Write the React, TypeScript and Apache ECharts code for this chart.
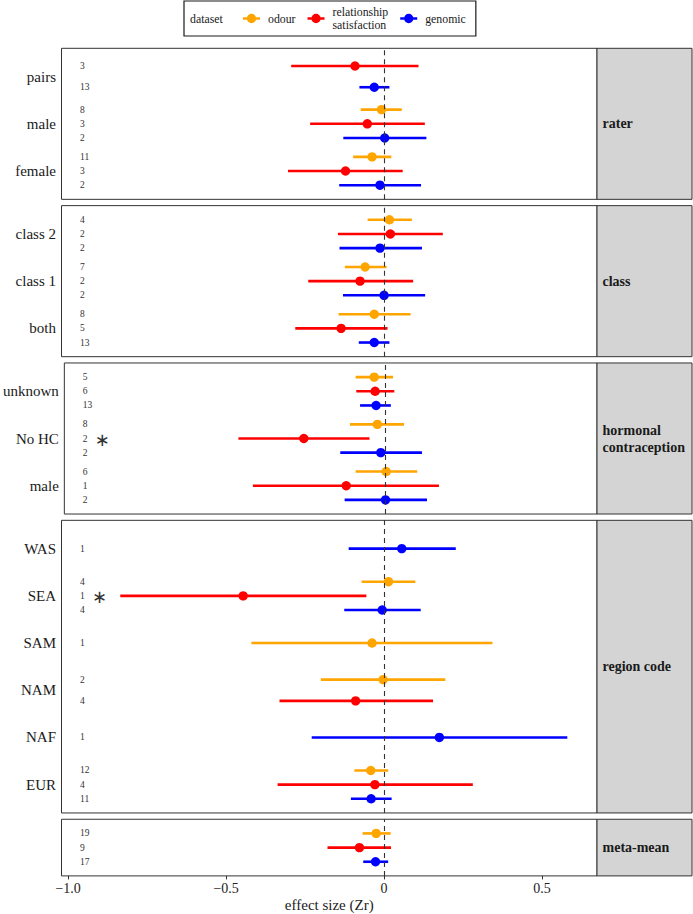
import React, { useEffect, useRef } from 'react';
import * as echarts from 'echarts';

// ---------------- data ----------------
const datasets = ['odour', 'relationship satisfaction', 'genomic'];
const datasetColors = ['#FFA500', '#FF0000', '#0000FF'];
const xTicks = [-1.0, -0.5, 0, 0.5];
const xTickLabels = ['\u22121.0', '\u22120.5', '0', '0.5'];

// rows: [category, dataset index, estimate, lower CI, upper CI, k]
const raterCategories = ['pairs', 'male', 'female'];
const raterRows = [
  ['pairs', 1, -0.092, -0.294, 0.109, 3],
  ['pairs', 2, -0.031, -0.078, 0.017, 13],
  ['male', 0, -0.008, -0.074, 0.056, 8],
  ['male', 1, -0.053, -0.234, 0.129, 3],
  ['male', 2, 0.002, -0.129, 0.134, 2],
  ['female', 0, -0.038, -0.098, 0.023, 11],
  ['female', 1, -0.122, -0.304, 0.059, 3],
  ['female', 2, -0.013, -0.142, 0.117, 2],
];

const classCategories = ['class 2', 'class 1', 'both'];
const classRows = [
  ['class 2', 0, 0.017, -0.052, 0.088, 4],
  ['class 2', 1, 0.02, -0.146, 0.186, 2],
  ['class 2', 2, -0.013, -0.141, 0.12, 2],
  ['class 1', 0, -0.06, -0.124, 0.008, 7],
  ['class 1', 1, -0.076, -0.24, 0.092, 2],
  ['class 1', 2, 0.0, -0.13, 0.13, 2],
  ['both', 0, -0.031, -0.144, 0.084, 8],
  ['both', 1, -0.136, -0.281, 0.011, 5],
  ['both', 2, -0.031, -0.08, 0.017, 13],
];

const hcCategories = ['unknown', 'No HC', 'male'];
const hcRows = [
  ['unknown', 0, -0.035, -0.094, 0.025, 5],
  ['unknown', 1, -0.032, -0.092, 0.029, 6],
  ['unknown', 2, -0.029, -0.08, 0.018, 13],
  ['No HC', 0, -0.025, -0.112, 0.06, 8],
  ['No HC', 1, -0.259, -0.467, -0.05, 2],
  ['No HC', 2, -0.014, -0.143, 0.117, 2],
  ['male', 0, 0.003, -0.094, 0.102, 6],
  ['male', 1, -0.124, -0.421, 0.171, 1],
  ['male', 2, 0.001, -0.129, 0.133, 2],
];

const regionCategories = ['WAS', 'SEA', 'SAM', 'NAM', 'NAF', 'EUR'];
const regionRows = [
  ['WAS', 2, 0.056, -0.112, 0.227, 1],
  ['SEA', 0, 0.014, -0.071, 0.099, 4],
  ['SEA', 1, -0.446, -0.835, -0.056, 1],
  ['SEA', 2, -0.006, -0.126, 0.116, 4],
  ['SAM', 0, -0.038, -0.42, 0.343, 1],
  ['NAM', 0, -0.003, -0.2, 0.194, 2],
  ['NAM', 1, -0.09, -0.331, 0.155, 4],
  ['NAF', 2, 0.175, -0.229, 0.58, 1],
  ['EUR', 0, -0.042, -0.094, 0.013, 12],
  ['EUR', 1, -0.029, -0.337, 0.281, 4],
  ['EUR', 2, -0.041, -0.105, 0.024, 11],
];

const metaCategories = ['meta-mean'];
const metaRows = [
  ['meta-mean', 0, -0.025, -0.068, 0.021, 19],
  ['meta-mean', 1, -0.078, -0.179, 0.022, 9],
  ['meta-mean', 2, -0.027, -0.066, 0.013, 17],
];

// [panel index, category, dataset index] of estimates marked with an asterisk
const starredRows = [
  [2, 'No HC', 1],
  [3, 'SEA', 1],
];

const panelLabels = ['rater', 'class', 'hormonal\ncontraception', 'region code', 'meta-mean'];
const panelCategories = [raterCategories, classCategories, hcCategories, regionCategories, metaCategories];
const panelRows = [raterRows, classRows, hcRows, regionRows, metaRows];
const panelShowCategoryLabels = [true, true, true, true, false];

// ---------------- layout ----------------
const FONT = "'Liberation Serif', 'DejaVu Serif', 'Times New Roman', serif";
const X_MIN = -1.021;
const X_MAX = 0.674;
const UNIT = 47.2;
const GAP = 6.3;
const TOP0 = 48.3;
const LEFT = 61.5;
const PLOT_RIGHT = 597;
const STRIP_RIGHT = 692;
const DODGE = 0.9;
const FRAME = '#333333';

const legendIcon =
  'path://M0,3.7H3.9V6.3H0Z M13.1,3.7H17V6.3H13.1Z M3.8,5A4.7,4.7 0 1 1 13.2,5A4.7,4.7 0 1 1 3.8,5Z';

function buildOption() {
  const grids: any[] = [];
  const xAxes: any[] = [];
  const yAxes: any[] = [];
  const series: any[] = [];
  const graphics: any[] = [];

  let top = TOP0;
  const last = panelLabels.length - 1;

  panelLabels.forEach((label, p) => {
    const cats = panelCategories[p];
    const rows = panelRows[p];
    const n = cats.length;
    const height = (n - 1 + 1.2) * UNIT;

    grids.push({
      left: LEFT,
      top,
      width: PLOT_RIGHT - LEFT,
      height,
      show: true,
      borderColor: FRAME,
      borderWidth: 1,
      backgroundColor: '#ffffff',
    });

    const isLast = p === last;
    xAxes.push({
      type: 'value',
      gridIndex: p,
      min: X_MIN,
      max: X_MAX,
      show: isLast,
      axisLine: { show: false },
      splitLine: { show: false },
      axisTick: {
        show: isLast,
        customValues: xTicks,
        length: 3.5,
        lineStyle: { color: FRAME, width: 1 },
      },
      axisLabel: {
        show: isLast,
        customValues: xTicks,
        formatter: (v: number) => {
          const i = xTicks.findIndex((t) => Math.abs(t - v) < 1e-9);
          return i >= 0 ? xTickLabels[i] : '';
        },
        fontFamily: FONT,
        fontSize: 14,
        color: '#222',
        margin: 6,
      },
      name: isLast ? 'effect size (Zr)' : '',
      nameLocation: 'middle',
      nameGap: 22,
      nameTextStyle: { fontFamily: FONT, fontSize: 15, color: '#222' },
    });

    const yVals = cats.map((_, i) => n - i);
    yAxes.push({
      type: 'value',
      gridIndex: p,
      min: 0.4,
      max: n + 0.6,
      axisLine: { show: false },
      splitLine: { show: false },
      axisTick: { show: false },
      axisLabel: {
        show: panelShowCategoryLabels[p],
        customValues: yVals,
        formatter: (v: number) => {
          const i = n - Math.round(v);
          return cats[i] ?? '';
        },
        fontFamily: FONT,
        fontSize: 15,
        color: '#1a1a1a',
        margin: 5.5,
      },
    });

    // dashed reference line at 0
    series.push({
      type: 'scatter',
      xAxisIndex: p,
      yAxisIndex: p,
      data: [],
      silent: true,
      z: 1,
      markLine: {
        silent: true,
        symbol: ['none', 'none'],
        label: { show: false },
        lineStyle: { color: FRAME, type: [5, 4], width: 1.1 },
        data: [{ xAxis: 0 }],
      },
    });

    // positions (dodged)
    const positioned: any[] = [];
    cats.forEach((cat, ci) => {
      const catRows = rows.filter((r) => r[0] === cat).sort((a: any, b: any) => a[1] - b[1]);
      const m = catRows.length;
      catRows.forEach((r: any, j) => {
        const y = n - ci + (DODGE / m) * ((m - 1) / 2 - j);
        const starred = starredRows.some((s) => s[0] === p && s[1] === cat && s[2] === r[1]);
        positioned.push({ ds: r[1], est: r[2], lo: r[3], hi: r[4], k: r[5], y, starred });
      });
    });

    datasets.forEach((ds, d) => {
      const color = datasetColors[d];
      series.push({
        type: 'custom',
        name: ds,
        xAxisIndex: p,
        yAxisIndex: p,
        z: 3,
        itemStyle: { color },
        encode: { x: [0, 2, 3], y: 1 },
        data: positioned.filter((r) => r.ds === d).map((r) => [r.est, r.y, r.lo, r.hi]),
        renderItem: (params: any, api: any) => {
          const y = api.value(1);
          const a = api.coord([api.value(2), y]);
          const b = api.coord([api.value(3), y]);
          const c = api.coord([api.value(0), y]);
          return {
            type: 'group',
            children: [
              {
                type: 'line',
                shape: { x1: a[0], y1: a[1], x2: b[0], y2: b[1] },
                style: { stroke: color, lineWidth: 2.6 },
              },
              {
                type: 'circle',
                shape: { cx: c[0], cy: c[1], r: 4.7 },
                style: { fill: color },
              },
            ],
          };
        },
      });
    });

    // k labels and asterisks
    series.push({
      type: 'custom',
      xAxisIndex: p,
      yAxisIndex: p,
      z: 4,
      silent: true,
      encode: { x: 0, y: 1 },
      data: positioned.map((r) => [X_MIN, r.y, r.k, r.starred ? 1 : 0]),
      renderItem: (params: any, api: any) => {
        const pt = api.coord([api.value(0), api.value(1)]);
        const children: any[] = [
          {
            type: 'text',
            x: pt[0] + 18.5,
            y: pt[1],
            style: {
              text: String(api.value(2)),
              fontFamily: FONT,
              fontSize: 9.5,
              fill: '#333',
              align: 'left',
              verticalAlign: 'middle',
            },
          },
        ];
        if (api.value(3)) {
          children.push({
            type: 'text',
            x: pt[0] + 38,
            y: pt[1] + 1,
            style: {
              text: '\u2217',
              fontFamily: "'DejaVu Sans', sans-serif",
              fontSize: 18,
              fill: '#333',
              align: 'center',
              verticalAlign: 'middle',
            },
          });
        }
        return { type: 'group', children };
      },
    });

    // strip on the right
    graphics.push({
      type: 'rect',
      shape: { x: PLOT_RIGHT, y: top, width: STRIP_RIGHT - PLOT_RIGHT, height },
      style: { fill: '#d4d4d4', stroke: FRAME, lineWidth: 1 },
      z: 10,
    });
    graphics.push({
      type: 'text',
      x: PLOT_RIGHT + 5.5,
      y: top + height / 2,
      style: {
        text: label,
        fontFamily: FONT,
        fontWeight: 'bold',
        fontSize: 14,
        lineHeight: 17,
        fill: '#1a1a1a',
        align: 'left',
        verticalAlign: 'middle',
      },
      z: 11,
    });

    top += height + GAP;
  });

  graphics.push({
    type: 'text',
    x: 190,
    y: 19,
    style: {
      text: 'dataset',
      fontFamily: FONT,
      fontSize: 11.8,
      fill: '#1a1a1a',
      align: 'left',
      verticalAlign: 'middle',
    },
    z: 20,
  });

  return {
    animation: false,
    backgroundColor: '#ffffff',
    grid: grids,
    xAxis: xAxes,
    yAxis: yAxes,
    series,
    graphic: graphics,
    legend: {
      left: 184,
      top: 1,
      orient: 'horizontal',
      padding: [4.5, 10, 4.5, 59],
      itemWidth: 17,
      itemHeight: 10,
      itemGap: 12,
      borderColor: '#1a1a1a',
      borderWidth: 1.2,
      selectedMode: false,
      data: datasets.map((d) => ({ name: d, icon: legendIcon })),
      formatter: (name: string) => (name === 'relationship satisfaction' ? 'relationship\nsatisfaction' : name),
      textStyle: {
        fontFamily: FONT,
        fontSize: 11.8,
        lineHeight: 13,
        color: '#1a1a1a',
        padding: [0, 0, 0, 3],
      },
    },
  };
}

export default function App() {
  const ref = useRef<HTMLDivElement>(null);
  useEffect(() => {
    document.body.style.margin = '0';
    if (!ref.current) return;
    const chart = echarts.init(ref.current, undefined, { renderer: 'svg' });
    chart.setOption(buildOption() as any);
    return () => chart.dispose();
  }, []);
  return <div ref={ref} style={{ width: 693, height: 914 }} />;
}
